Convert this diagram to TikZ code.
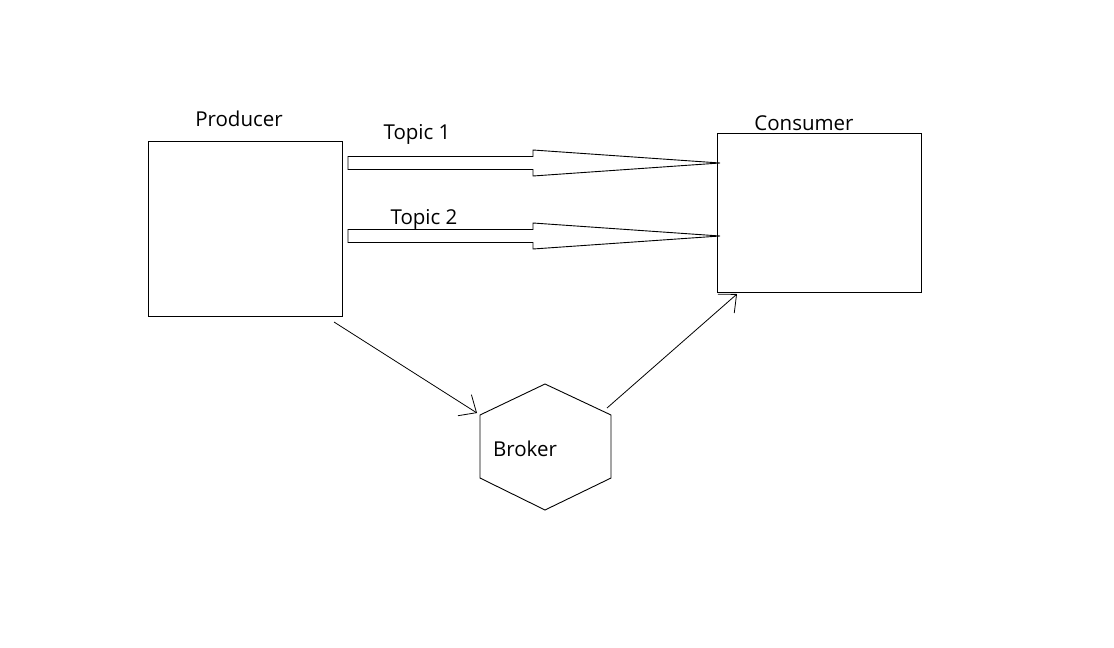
\documentclass[tikz,border=0pt]{standalone}
\usepackage{fontspec}
\setmainfont{Open Sans}
\usetikzlibrary{arrows.meta,calc}
\begin{document}
\begin{tikzpicture}[x=1pt,y=-1pt,
  lbl/.style={anchor=base,inner sep=0pt,font=\fontsize{20.5}{24}\selectfont},
  box/.style={draw,line width=0.9pt,inner sep=0pt,minimum width=0pt},
  thin/.style={draw,line width=0.8pt,-{Straight Barb[length=14pt,width=25pt,line width=0.8pt]}},
  blockarrow/.style={line width=0.9pt,to path={
    let \p1=(\tikztostart), \p2=(\tikztotarget) in
    (\x1,\y1+6.5pt) -- (\x2-187pt,\y1+6.5pt) -- (\x2-187pt,\y1+13pt) -- (\x2,\y2)
    -- (\x2-187pt,\y1-13pt) -- (\x2-187pt,\y1-6.5pt) -- (\x1,\y1-6.5pt) -- cycle}}]
\useasboundingbox[fill=white] (0,0) rectangle (1114,648);
% boxes
\draw[line width=0.9pt] (148,141) rectangle (342,316);
\coordinate (prodNW) at (148,141); \coordinate (prodSE) at (342,316);
\draw[line width=0.9pt] (717,133) rectangle (921,292);
\coordinate (consNW) at (717,133); \coordinate (consSE) at (921,292);
% labels
\node[lbl] (prodlbl) at (239,126) {Producer};
\node[lbl] (conslbl) at (804,130) {Consumer};
\node[lbl] (t1lbl) at (417,139) {Topic 1};
\node[lbl] (t2lbl) at (424,224) {Topic 2};
% hexagon
\coordinate (hT) at (545,384);
\coordinate (hUR) at (611,415);
\coordinate (hLR) at (611,478);
\coordinate (hB) at (545,510);
\coordinate (hLL) at (480,478);
\coordinate (hUL) at (480,415);
\draw[line width=0.9pt] (hT) -- (hUR) -- (hLR) -- (hB) -- (hLL) -- (hUL) -- cycle;
\node[lbl] (broker) at (525,456) {Broker};
% block arrows
\coordinate (t1s) at (348,163); \coordinate (t1e) at (720,163);
\coordinate (t2s) at (348,236); \coordinate (t2e) at (720,236);
\draw[blockarrow] (t1s) to (t1e);
\draw[blockarrow] (t2s) to (t2e);
% thin arrows
\coordinate (pb1) at (334,322); \coordinate (pb2) at (477,413);
\coordinate (bc1) at (607,408); \coordinate (bc2) at (737,294);
\draw[thin] (pb1) -- (pb2);
\draw[thin] (bc1) -- (bc2);
\end{tikzpicture}
\end{document}
